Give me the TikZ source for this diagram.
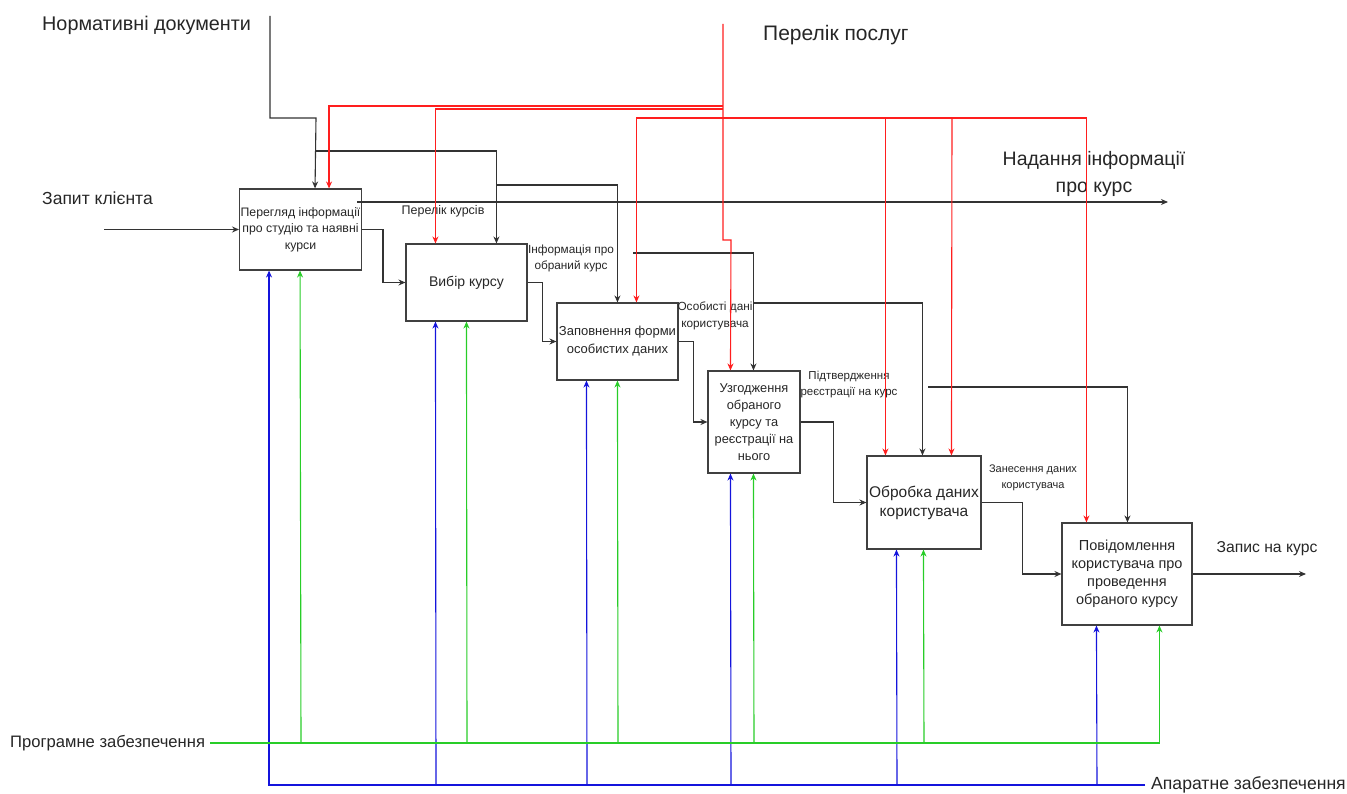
\documentclass[tikz,border=0pt]{standalone}
\usepackage{fontspec}
\setmainfont{Liberation Sans}
\usetikzlibrary{arrows.meta}
\definecolor{lgreen}{RGB}{40,205,40}
\definecolor{lblue}{RGB}{20,20,220}
\definecolor{lred}{RGB}{255,30,30}
\tikzset{
  box/.style={draw=black!75, line width=1.1pt, inner sep=1pt, align=center, text=black!85},
  arr/.style={draw=black!80, line width=1.1pt, -{Stealth[length=7pt,width=6pt]}},
  redarr/.style={draw=lred, line width=1.1pt, -{Stealth[length=7pt,width=6pt]}},
  bluearr/.style={draw=lblue, line width=1.1pt, -{Stealth[length=7pt,width=6pt]}},
  greenarr/.style={draw=lgreen, line width=1.1pt, -{Stealth[length=7pt,width=6pt]}},
  lbl/.style={inner sep=0pt, align=center, text=black!85},
}
\begin{document}
\begin{tikzpicture}[x=1pt,y=-1pt]
\useasboundingbox (0,0) rectangle (1347,794);
% boxes
\node[box, minimum width=121pt, minimum height=81pt, font=\fontsize{12.3}{16.5}\selectfont] (b1) at (300.5,229.5) {Перегляд інформації\\про студію та наявні\\курси};
\node[box, minimum width=121pt, minimum height=77pt, font=\fontsize{14}{17}\selectfont] (b2) at (466.5,282.5) {Вибір курсу};
\node[box, minimum width=121pt, minimum height=77pt, font=\fontsize{13}{18}\selectfont] (b3) at (617.5,341.5) {Заповнення форми\\особистих даних};
\node[box, minimum width=92pt, minimum height=102pt, font=\fontsize{12.8}{17}\selectfont] (b4) at (754,422) {Узгодження\\обраного\\курсу та\\реєстрації на\\нього};
\node[box, minimum width=114pt, minimum height=93pt, font=\fontsize{15.5}{19}\selectfont] (b5) at (924,502.5) {Обробка даних\\користувача};
\node[box, minimum width=130pt, minimum height=102pt, font=\fontsize{14.5}{18}\selectfont] (b6) at (1127,574) {Повідомлення\\користувача про\\проведення\\обраного курсу};

% outer labels
\node[lbl, anchor=west, font=\fontsize{19.8}{22}\selectfont] (tnd) at (42,25) {Нормативні документи};
\node[lbl, anchor=west, font=\fontsize{21}{24}\selectfont] (tpp) at (763,35) {Перелік послуг};
\node[lbl, anchor=west, font=\fontsize{17.5}{22}\selectfont] (tin) at (42,198) {Запит клієнта};
\node[lbl, font=\fontsize{19.5}{27}\selectfont] (tout1) at (1094,174) {Надання інформації\\про курс};
\node[lbl, font=\fontsize{15.7}{20}\selectfont] (tout2) at (1267,549) {Запис на курс};
\node[lbl, anchor=west, font=\fontsize{16.6}{20}\selectfont] (tsw) at (10,743) {Програмне забезпечення};
\node[lbl, anchor=west, font=\fontsize{17.6}{20}\selectfont] (thw) at (1151,785) {Апаратне забезпечення};

% inner arrow labels
\node[lbl, font=\fontsize{12.5}{15}\selectfont] (l1) at (443,211) {Перелік курсів};
\node[lbl, font=\fontsize{11.8}{16}\selectfont] (l2) at (571,258) {Інформація про\\обраний курс};
\node[lbl, font=\fontsize{11.8}{17}\selectfont] (l3) at (715,316) {Особисті дані\\користувача};
\node[lbl, font=\fontsize{11.5}{16}\selectfont] (l4) at (849,385) {Підтвердження\\реєстрації на курс};
\node[lbl, font=\fontsize{11}{16}\selectfont] (l5) at (1033,478) {Занесення даних\\користувача};

% free ends
\coordinate (cin) at (104,229.5);
\coordinate (cout1s) at (357,202);
\coordinate (cout1) at (1168,202);
\coordinate (cout2) at (1306,574);
\coordinate (cnd) at (270,16);
\coordinate (cpp) at (723,24);
\coordinate (csw) at (210,743);
\coordinate (chw) at (1145,785);
\coordinate (cinf) at (633,253);
\coordinate (cos) at (754,303);
\coordinate (cpid) at (928,387);

% input / outputs
\draw[arr] (cin) -- (b1.west);
\draw[arr] (cout1s) -- (cout1);
\draw[arr] (b6.east) -- (cout2);

% flow between boxes
\draw[arr] (b1.east) -- ++(21,0) |- (b2.west);
\draw[arr] (b2.east) -- ++(15,0) |- (b3.west);
\draw[arr] (b3.east) -- ++(15,0) |- (b4.west);
\draw[arr] (b4.east) -- ++(33,0) |- (b5.west);
\draw[arr] (b5.east) -- ++(41,0) |- (b6.west);

% black controls
\draw[arr] (cnd) |- (316,118) -- ([xshift=76pt]b1.north west);
\draw[arr] (316,151) -| ([xshift=91pt]b2.north west);
\draw[arr] (497,185) -| ([xshift=61pt]b3.north west);
\draw[arr] (cinf) -| ([xshift=46pt]b4.north west);
\draw[arr] (cos) -| ([xshift=56pt]b5.north west);
\draw[arr] (cpid) -| ([xshift=66pt]b6.north west);

% red controls
\draw[redarr] (cpp) -- (723,240) -- (731,240) -- ([xshift=23pt]b4.north west);
\draw[redarr] (723,106) -| ([xshift=90pt]b1.north west);
\draw[redarr] (723,109) -| ([xshift=30pt]b2.north west);
\draw[redarr] (723,118) -| ([xshift=80pt]b3.north west);
\draw[redarr] (723,118) -| ([xshift=19pt]b5.north west);
\draw[redarr] (952,118) -- ([xshift=85pt]b5.north west);
\draw[redarr] (723,118) -| ([xshift=25pt]b6.north west);

% blue mechanisms
\draw[bluearr] (chw) -| ([xshift=30pt]b1.south west);
\draw[bluearr] (436,785) -- ([xshift=30pt]b2.south west);
\draw[bluearr] (587,785) -- ([xshift=30pt]b3.south west);
\draw[bluearr] (731,785) -- ([xshift=23pt]b4.south west);
\draw[bluearr] (897,785) -- ([xshift=30pt]b5.south west);
\draw[bluearr] (1097,785) -- ([xshift=35pt]b6.south west);

% green mechanisms
\draw[greenarr] (csw) -| ([xshift=98pt]b6.south west);
\draw[greenarr] (301,743) -- ([xshift=61pt]b1.south west);
\draw[greenarr] (467,743) -- ([xshift=61pt]b2.south west);
\draw[greenarr] (618,743) -- ([xshift=61pt]b3.south west);
\draw[greenarr] (754,743) -- ([xshift=46pt]b4.south west);
\draw[greenarr] (924,743) -- ([xshift=57pt]b5.south west);
\end{tikzpicture}
\end{document}
